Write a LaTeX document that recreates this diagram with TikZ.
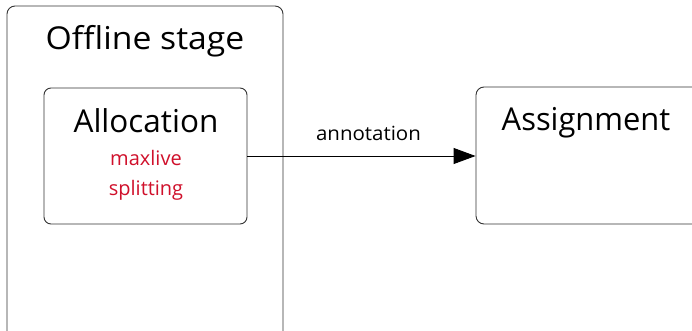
\documentclass[tikz,border=0pt]{standalone}
\usepackage{fontspec}
\setmainfont{Open Sans}
\usetikzlibrary{arrows.meta}
\definecolor{notered}{HTML}{D0102B}
\begin{document}
\begin{tikzpicture}[x=1pt,y=-1pt,
  panel/.style={draw=black!80,line width=0.9pt,rounded corners=8pt,fill=white,inner sep=0pt},
  title/.style={font=\fontsize{31.5}{36}\selectfont,inner sep=0pt},
  note/.style={font=\fontsize{20}{30}\selectfont,text=notered,inner sep=0pt,align=center},
  flow/.style={line width=0.9pt,-{Triangle[length=22pt,width=16pt]}}]
\useasboundingbox (0,0) rectangle (692,331);
\clip (0,0) rectangle (692,331);
% outer stage panel, running past the lower edge
\node[panel,minimum width=276pt,minimum height=344pt] (offline) at (145,178) {};
\node[title,xscale=1.07] (offtitle) at (145,41) {Offline stage};
% allocation step
\node[panel,rounded corners=7pt,minimum width=203pt,minimum height=136pt] (alloc) at (145.5,156) {};
\node[title] (alloctitle) at (146,121) {Allocation};
\node[note] (allocnote) at (146,175) {maxlive\\splitting};
% assignment step, running past the right edge
\node[panel,minimum width=230pt,minimum height=137pt] (assign) at (591,155.5) {};
\node[title,xscale=0.98] (assigntitle) at (586,123) {Assignment};
% connector
\draw[flow] (alloc.east) -- node[above=12pt,xshift=7pt,font=\fontsize{19.5}{22}\selectfont,xscale=1.05] (annot) {annotation} (alloc.east -| assign.west);
\end{tikzpicture}
\end{document}
